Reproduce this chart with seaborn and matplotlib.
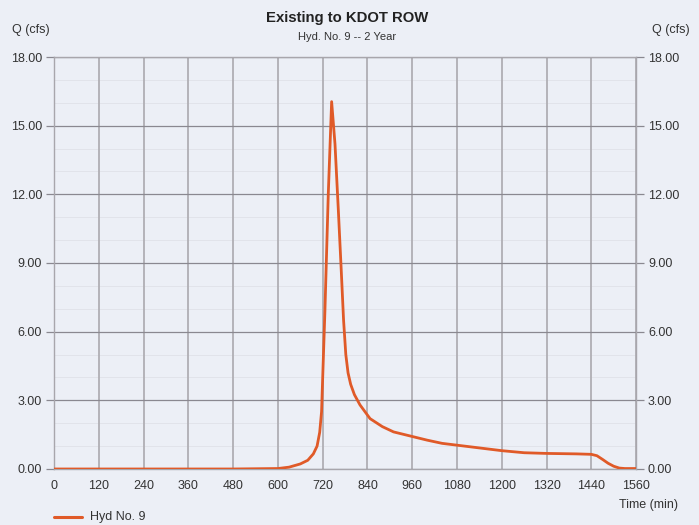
import matplotlib
matplotlib.use("Agg")
import matplotlib.pyplot as plt
import seaborn as sns
import pandas as pd

time_min = [0, 120, 240, 360, 480, 600, 630, 660, 680, 695, 705, 712, 717, 726, 735,
            744, 753, 762, 770, 776, 782, 788, 795, 805, 820, 847, 880, 910, 960, 1000,
            1040, 1090, 1130, 1200, 1260, 1320, 1400, 1440, 1455, 1470, 1485, 1500, 1515,
            1530, 1560]
flow_cfs = [0.0, 0.0, 0.0, 0.0, 0.0, 0.02, 0.08, 0.22, 0.38, 0.66, 1.0, 1.6, 2.5, 6.9, 12.0,
            16.05, 14.2, 11.3, 8.6, 6.5, 5.0, 4.2, 3.7, 3.25, 2.8, 2.2, 1.85, 1.62, 1.42, 1.26,
            1.12, 1.02, 0.94, 0.80, 0.71, 0.68, 0.66, 0.64, 0.58, 0.42, 0.25, 0.12, 0.04,
            0.02, 0.02]
series_name = "Hyd No. 9"
x_ticks = [0, 120, 240, 360, 480, 600, 720, 840, 960, 1080, 1200, 1320, 1440, 1560]
y_ticks = [0, 3, 6, 9, 12, 15, 18]

df = pd.DataFrame({"Time": time_min, "Q": flow_cfs, "series": series_name})

bg = "#eceff6"
sns.set_style("white")
plt.rcParams["font.family"] = ["Liberation Sans", "DejaVu Sans"]

fig = plt.figure(figsize=(6.99, 5.25), dpi=100, facecolor=bg)
ax = fig.add_axes([0.0773, 0.1067, 0.8327, 0.7847], facecolor=bg)

# grid
for y in range(0, 19):
    if y % 3 == 0:
        continue
    ax.axhline(y, color="#e0e1e8", lw=0.6, zorder=0)
for y in y_ticks:
    ax.axhline(y, color="#8a8890", lw=0.9, zorder=0.5)
for x in x_ticks:
    ax.axvline(x, color="#b0aeb4", lw=1.3, zorder=0.4)

sns.lineplot(data=df, x="Time", y="Q", hue="series", palette=["#e05a28"],
             linewidth=2.0, ax=ax, legend=False, zorder=3)

ax.set_xlim(0, 1560)
ax.set_ylim(0, 18)
ax.set_xticks(x_ticks)
ax.set_xticklabels([str(v) for v in x_ticks])
ax.set_yticks(y_ticks)
ax.set_yticklabels([f"{v:.2f}" for v in y_ticks])
ax.tick_params(axis="x", length=0, pad=8, labelsize=9, labelcolor="#333333")
ax.tick_params(axis="y", length=5.5, width=0.9, color="#8a8890", pad=3,
               labelsize=9, labelcolor="#333333", left=True, right=True,
               labelleft=True, labelright=True)
for s in ax.spines.values():
    s.set_color("#a8a6ac")
    s.set_linewidth(1.0)
ax.set_xlabel("")
ax.set_ylabel("")

fig.text(0.496, 0.966, "Existing to KDOT ROW", ha="center", va="center",
         fontsize=10.7, fontweight="bold", color="#222222")
fig.text(0.496, 0.93, "Hyd. No. 9 -- 2 Year", ha="center", va="center",
         fontsize=8, color="#333333")
fig.text(0.017, 0.943, "Q (cfs)", ha="left", va="center", fontsize=9, color="#333333")
fig.text(0.987, 0.943, "Q (cfs)", ha="right", va="center", fontsize=9, color="#333333")
fig.text(0.970, 0.038, "Time (min)", ha="right", va="center", fontsize=9, color="#333333")

# legend
fig.lines.append(plt.Line2D([0.077, 0.118], [0.015, 0.015], color="#e05a28", lw=2.2,
                            transform=fig.transFigure))
fig.text(0.129, 0.015, series_name, ha="left", va="center", fontsize=9, color="#333333")

fig.savefig("out.png", dpi=100, facecolor=bg)
